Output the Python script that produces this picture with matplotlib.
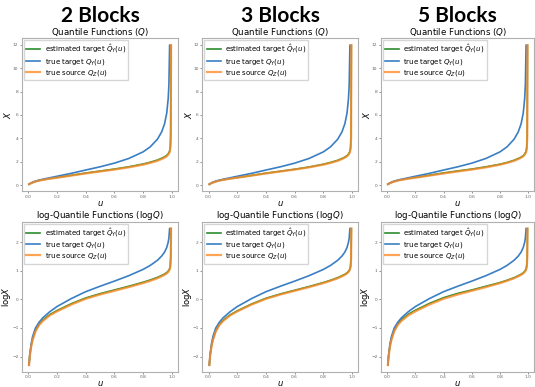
import numpy as np
import matplotlib
matplotlib.use('Agg')
import matplotlib.pyplot as plt

# block counts shown in the three columns
blocks = ['2 Blocks', '3 Blocks', '5 Blocks']

# log-quantile values
u_target = [0.005, 0.01, 0.02, 0.03, 0.05, 0.075, 0.1, 0.15, 0.2, 0.3, 0.4, 0.5,
            0.6, 0.7, 0.8, 0.85, 0.9, 0.93, 0.95, 0.965, 0.975, 0.98, 0.985]
logq_target = [-2.3, -1.95, -1.55, -1.3, -1.0, -0.8, -0.65, -0.43, -0.25, 0.03, 0.27, 0.46,
               0.64, 0.83, 1.05, 1.19, 1.37, 1.52, 1.66, 1.82, 2.0, 2.15, 2.48]

u_source = [0.005, 0.01, 0.02, 0.03, 0.05, 0.075, 0.1, 0.15, 0.2, 0.3, 0.4, 0.5,
            0.6, 0.7, 0.8, 0.85, 0.9, 0.93, 0.95, 0.965, 0.975, 0.985, 0.99, 0.993, 0.995]
logq_source = [-2.3, -2.0, -1.65, -1.42, -1.12, -0.9, -0.76, -0.56, -0.42, -0.18, 0.02, 0.17,
               0.3, 0.43, 0.57, 0.65, 0.74, 0.81, 0.86, 0.91, 0.96, 1.04, 1.15, 1.4, 2.48]

logq_est = [
    [-2.3, -1.97, -1.62, -1.39, -1.09, -0.87, -0.73, -0.53, -0.39, -0.15, 0.05, 0.2,
     0.33, 0.46, 0.6, 0.68, 0.77, 0.84, 0.89, 0.94, 0.99, 1.07, 1.2, 1.5, 2.48],
    [-2.3, -1.98, -1.63, -1.40, -1.10, -0.88, -0.74, -0.54, -0.40, -0.16, 0.04, 0.19,
     0.32, 0.45, 0.59, 0.67, 0.76, 0.83, 0.88, 0.93, 0.98, 1.06, 1.18, 1.45, 2.48],
    [-2.3, -1.97, -1.61, -1.38, -1.08, -0.86, -0.72, -0.52, -0.38, -0.14, 0.06, 0.21,
     0.33, 0.46, 0.59, 0.67, 0.76, 0.83, 0.88, 0.93, 0.98, 1.06, 1.18, 1.45, 2.48],
]

C_EST = '#2e8b2e'
C_TGT = '#3a7fc4'
C_SRC = '#ff8c2a'

lefts = [0.041, 0.378, 0.712]
widths = [0.292, 0.292, 0.287]

fig = plt.figure(figsize=(5.35, 3.87), dpi=100)


def style(ax):
    for s in ax.spines.values():
        s.set_color('#b0b0b0')
        s.set_linewidth(0.8)
    ax.tick_params(labelsize=3.2, colors='#666666', length=1.5, width=0.5, pad=1)
    ax.yaxis.set_label_coords(-0.055, 0.5)


def add_legend(ax):
    ax.legend(loc='upper left', fontsize=5, handlelength=2.0, borderpad=0.35,
              labelspacing=0.2, handletextpad=0.6, borderaxespad=0.3,
              edgecolor='#cccccc', fancybox=False)


for i in range(3):
    ax1 = fig.add_axes([lefts[i], 0.506, widths[i], 0.395])
    ax2 = fig.add_axes([lefts[i], 0.039, widths[i], 0.388])

    ax1.plot(u_source, np.exp(logq_est[i]), color=C_EST, lw=1.2,
             label=r'estimated target $\hat{Q}_Y(u)$')
    ax1.plot(u_target, np.exp(logq_target), color=C_TGT, lw=1.2,
             label=r'true target $Q_Y(u)$')
    ax1.plot(u_source, np.exp(logq_source), color=C_SRC, lw=1.6, alpha=0.8,
             label=r'true source $Q_Z(u)$')
    ax1.set_title('Quantile Functions ($Q$)', fontsize=6.2, pad=2)
    ax1.set_ylabel('$X$', fontsize=6)
    ax1.set_xlabel('$u$', fontsize=6, labelpad=0)
    ax1.set_yticks([0, 2, 4, 6, 8, 10, 12])
    ax1.set_xticks([0.0, 0.2, 0.4, 0.6, 0.8, 1.0])
    style(ax1)
    add_legend(ax1)

    ax2.plot(u_source, logq_est[i], color=C_EST, lw=1.2,
             label=r'estimated target $\hat{Q}_Y(u)$')
    ax2.plot(u_target, logq_target, color=C_TGT, lw=1.2,
             label=r'true target $Q_Y(u)$')
    ax2.plot(u_source, logq_source, color=C_SRC, lw=1.6, alpha=0.8,
             label=r'true source $Q_Z(u)$')
    ax2.set_title('log-Quantile Functions (log$Q$)', fontsize=6.2, pad=2)
    ax2.set_ylabel('log$X$', fontsize=6)
    ax2.set_xlabel('$u$', fontsize=6, labelpad=0)
    ax2.set_yticks([-2, -1, 0, 1, 2])
    ax2.set_xticks([0.0, 0.2, 0.4, 0.6, 0.8, 1.0])
    style(ax2)
    add_legend(ax2)

    fig.text(lefts[i] + widths[i] / 2, 0.985, blocks[i], ha='center', va='top',
             fontsize=15, fontweight='bold', family='Lato')

fig.savefig('out.png', dpi=100)
